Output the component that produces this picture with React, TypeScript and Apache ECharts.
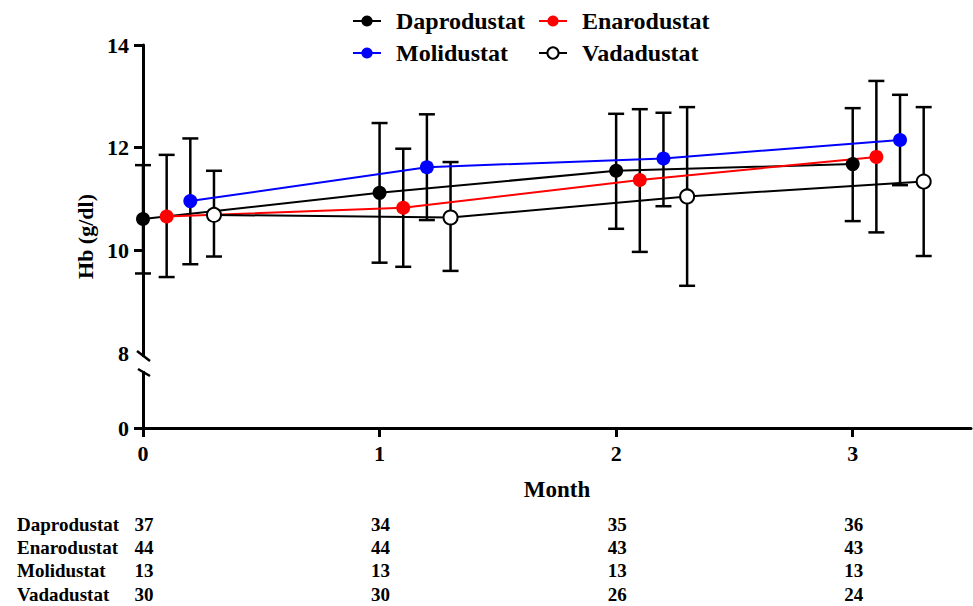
import React, { useEffect, useRef } from "react";
import * as echarts from "echarts";

// ---- data ----
const months = [0, 1, 2, 3];
const seriesNames = ["Daprodustat", "Enarodustat", "Molidustat", "Vadadustat"];
const dodge = [0, 0.1, 0.2, 0.3];

const daproMean = [10.61, 11.12, 11.55, 11.68];
const daproLow = [9.55, 9.76, 10.42, 10.57];
const daproHigh = [11.66, 12.48, 12.66, 12.77];

const enaroMean = [10.66, 10.83, 11.37, 11.82];
const enaroLow = [9.48, 9.68, 9.97, 10.35];
const enaroHigh = [11.86, 11.98, 12.75, 13.3];

const moliMean = [10.96, 11.62, 11.79, 12.15];
const moliLow = [9.73, 10.59, 10.86, 11.27];
const moliHigh = [12.18, 12.65, 12.68, 13.03];

const vadaMean = [10.69, 10.64, 11.05, 11.34];
const vadaLow = [9.88, 9.6, 9.31, 9.89];
const vadaHigh = [11.55, 11.72, 12.79, 12.79];

const yTickValues = [0, 10, 12, 14];
const yLabelValues = [0, 8, 10, 12, 14];

const nAtRisk = [
  [37, 34, 35, 36],
  [44, 44, 43, 43],
  [13, 13, 13, 13],
  [30, 30, 26, 24],
];

// ---- broken axis mapping ----
const BREAK_AT = 8;
const BREAK_SPAN = 1.46; // display units occupied by 0..8
const toDisp = (v: number) => (v >= BREAK_AT ? v - BREAK_AT + BREAK_SPAN : (v / BREAK_AT) * BREAK_SPAN);
const fromDisp = (d: number) => (d >= BREAK_SPAN - 1e-6 ? d - BREAK_SPAN + BREAK_AT : (d / BREAK_SPAN) * BREAK_AT);

const FONT = "Liberation Serif";
const colors = ["#000000", "#ff0000", "#0000ff", "#000000"];

export default function App() {
  const ref = useRef<HTMLDivElement>(null);
  useEffect(() => {
    if (!ref.current) return;
    const chart = echarts.init(ref.current, undefined, { renderer: "svg" });

    const means = [daproMean, enaroMean, moliMean, vadaMean];
    const lows = [daproLow, enaroLow, moliLow, vadaLow];
    const highs = [daproHigh, enaroHigh, moliHigh, vadaHigh];

    const lineSeries: any[] = seriesNames.map((name, i) => ({
      name,
      type: "line",
      z: 5,
      symbol: "circle",
      symbolSize: 14,
      data: months.map((m, j) => [m + dodge[i], toDisp(means[i][j])]),
      lineStyle: { color: colors[i], width: 2 },
      itemStyle:
        i === 3
          ? { color: "#ffffff", borderColor: "#000000", borderWidth: 2 }
          : { color: colors[i], borderWidth: 0 },
      emphasis: { disabled: true },
    }));

    const errSeries: any[] = seriesNames.map((name, i) => ({
      name: name + " SD",
      type: "custom",
      z: 3,
      data: months.map((m, j) => [m + dodge[i], toDisp(lows[i][j]), toDisp(highs[i][j])]),
      renderItem: (params: any, api: any) => {
        const x = api.value(0);
        const top = api.coord([x, api.value(2)]);
        const bot = api.coord([x, api.value(1)]);
        const hw = 8;
        const style = { stroke: "#000", lineWidth: 2.5 };
        return {
          type: "group",
          children: [
            { type: "line", shape: { x1: top[0], y1: top[1], x2: bot[0], y2: bot[1] }, style },
            { type: "line", shape: { x1: top[0] - hw, y1: top[1], x2: top[0] + hw, y2: top[1] }, style },
            { type: "line", shape: { x1: bot[0] - hw, y1: bot[1], x2: bot[0] + hw, y2: bot[1] }, style },
          ],
        };
      },
    }));

    const legendBase = {
      orient: "vertical",
      top: 4,
      itemWidth: 28,
      itemHeight: 14,
      itemGap: 8,
      textStyle: { fontSize: 24, fontWeight: "bold", fontFamily: FONT, color: "#000", padding: [0, 0, 0, 10] },
    };

    chart.setOption({
      animation: false,
      textStyle: { fontFamily: FONT },
      legend: [
        { ...legendBase, left: 347, data: ["Daprodustat", "Molidustat"] },
        { ...legendBase, left: 533, data: ["Enarodustat", "Vadadustat"] },
      ],
      grid: { left: 143, right: 2, top: 45, bottom: 178, containLabel: false },
      xAxis: {
        type: "value",
        min: 0,
        max: 3.5,
        interval: 1,
        splitLine: { show: false },
        axisLine: { lineStyle: { color: "#000", width: 3 } },
        axisTick: { length: 9, lineStyle: { color: "#000", width: 3 }, customValues: months },
        axisLabel: {
          customValues: months,
          margin: 14,
          fontSize: 22,
          fontWeight: "bold",
          fontFamily: FONT,
          color: "#000",
        },
        name: "Month",
        nameLocation: "middle",
        nameGap: 50,
        nameTextStyle: { fontSize: 23, fontWeight: "bold", fontFamily: FONT, color: "#000" },
      },
      yAxis: {
        type: "value",
        min: 0,
        max: toDisp(14),
        splitLine: { show: false },
        axisLine: { lineStyle: { color: "#000", width: 3 } },
        axisTick: { length: 9, lineStyle: { color: "#000", width: 3 }, customValues: yTickValues.map(toDisp) },
        axisLabel: {
          customValues: yLabelValues.map(toDisp),
          formatter: (v: number) => String(Math.round(fromDisp(v))),
          margin: 14,
          fontSize: 22,
          fontWeight: "bold",
          fontFamily: FONT,
          color: "#000",
        },
        name: "Hb (g/dl)",
        nameLocation: "middle",
        nameGap: 47,
        nameTextStyle: { fontSize: 22, fontWeight: "bold", fontFamily: FONT, color: "#000" },
      },
      series: [...errSeries, ...lineSeries],
    });

    // broken-axis marks and at-risk table, positioned through the axes
    const ax = chart.convertToPixel({ xAxisIndex: 0 }, 0) as number;
    const yb = chart.convertToPixel({ yAxisIndex: 0 }, BREAK_SPAN) as number;
    const rowY = [524, 547, 570, 594];
    const graphics: any[] = [
      { type: "rect", shape: { x: ax - 5, y: yb + 4, width: 10, height: 14 }, style: { fill: "#fff" }, z: 100 },
      { type: "line", shape: { x1: ax - 6, y1: yb - 2, x2: ax + 7, y2: yb + 8 }, style: { stroke: "#000", lineWidth: 2.5 }, z: 101 },
      { type: "line", shape: { x1: ax - 5, y1: yb + 16, x2: ax + 7, y2: yb + 23 }, style: { stroke: "#000", lineWidth: 2.5 }, z: 101 },
    ];
    seriesNames.forEach((name, r) => {
      graphics.push({
        type: "text",
        x: 17,
        y: rowY[r],
        style: { text: name, fontSize: 19, fontWeight: "bold", fontFamily: FONT, fill: "#000", verticalAlign: "middle", align: "left" },
      });
      months.forEach((m, c) => {
        const px = chart.convertToPixel({ xAxisIndex: 0 }, m) as number;
        graphics.push({
          type: "text",
          x: px + 1,
          y: rowY[r],
          style: { text: String(nAtRisk[r][c]), fontSize: 19, fontWeight: "bold", fontFamily: FONT, fill: "#000", verticalAlign: "middle", align: "center" },
        });
      });
    });
    chart.setOption({ graphic: graphics });

    return () => chart.dispose();
  }, []);
  return <div ref={ref} style={{ position: "absolute", left: 0, top: 0, width: 973, height: 606 }} />;
}
